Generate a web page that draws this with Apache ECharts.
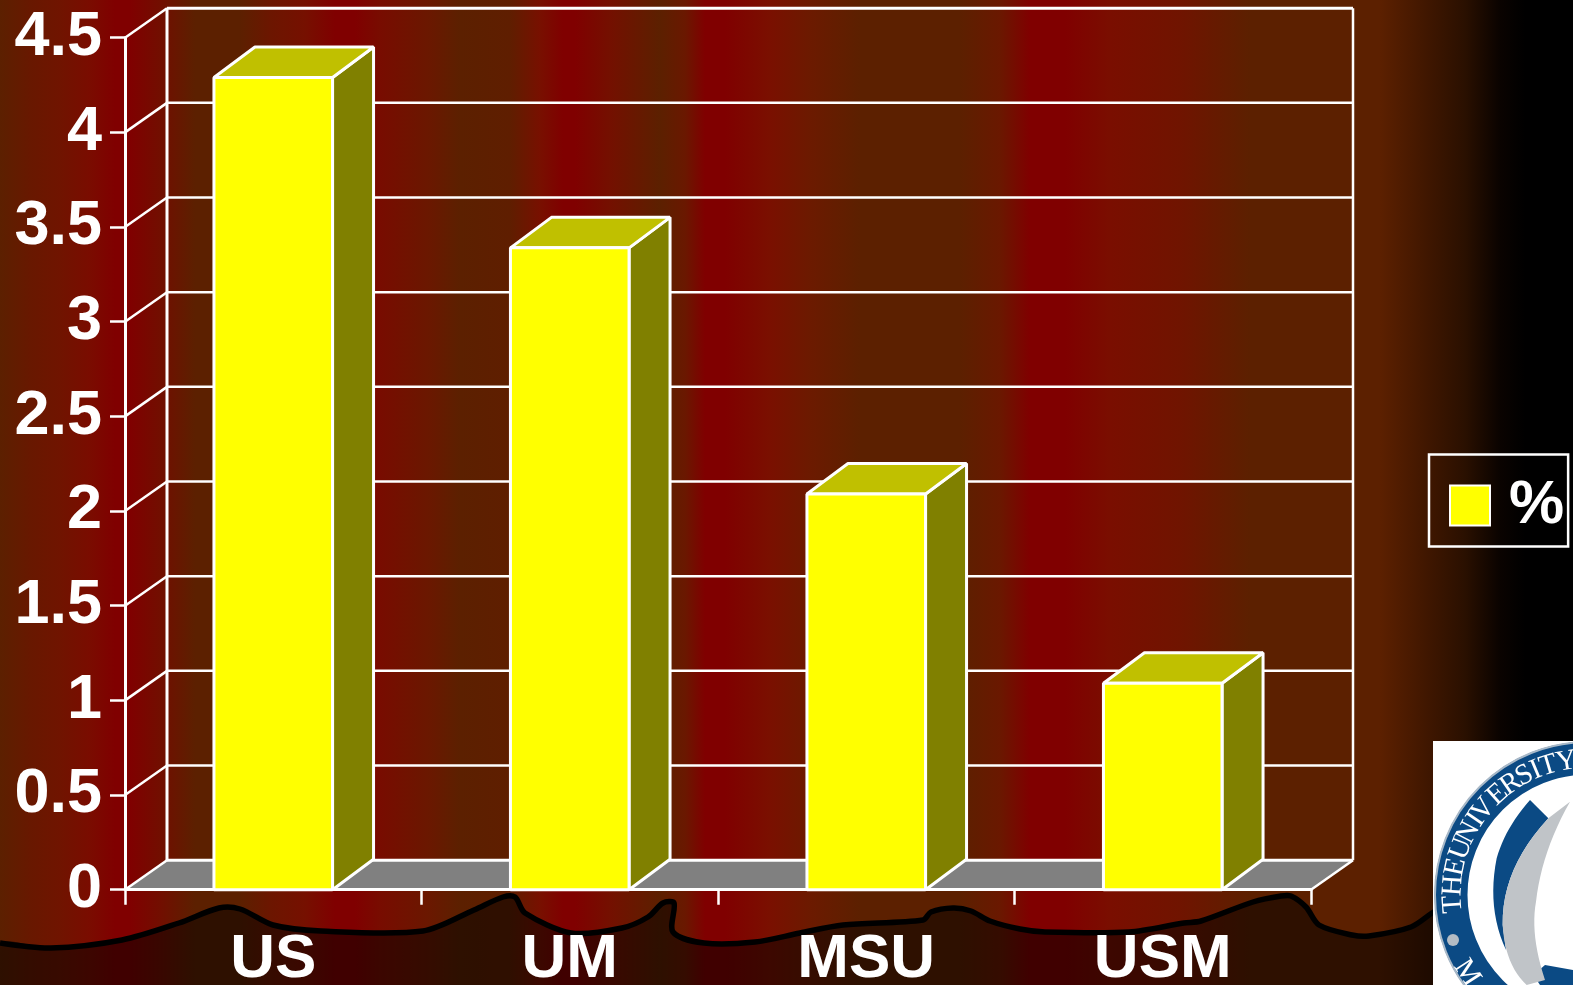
<!DOCTYPE html>
<html>
<head>
<meta charset="utf-8">
<title>Chart</title>
<style>
  html, body { margin: 0; padding: 0; background: #000; }
  #main { width: 1573px; height: 985px; }
</style>
<script src="https://cdn.jsdelivr.net/npm/echarts@6/dist/echarts.min.js"></script>
</head>
<body>
<div id="main"></div>
<script>
// chart data
const categories = ['US', 'UM', 'MSU', 'USM'];
const percentValues = [4.29, 3.39, 2.09, 1.09];
const yTicks = [0, 0.5, 1, 1.5, 2, 2.5, 3, 3.5, 4, 4.5];
const seriesName = '%';

// pseudo 3d depth of the wall and the bars, in pixels
const wallDx = 42, wallDy = 29.5;
const barDx = 41, barDy = 30.5;
const barFraction = 0.4;

// vertical stripes of the slide background
const stripeX = [0, 30, 60, 90, 115, 130, 160, 195, 240, 270, 305, 335, 355, 380, 430, 460, 510, 540, 563, 575, 610, 660, 685, 705, 725, 770, 810, 860, 960, 1000, 1030, 1065, 1110, 1180, 1250, 1380, 1430, 1465, 1500, 1525, 1573];
const stripeColors = ['#5c2000', '#681800', '#701400', '#7a0c00', '#800000', '#800000', '#720e00', '#5c2000', '#5c2000', '#6c1600', '#761000', '#800000', '#800000', '#780c00', '#6a1800', '#5c2000', '#5f1e00', '#781000', '#800000', '#800000', '#741000', '#5c2000', '#6a1800', '#800000', '#800000', '#7a1000', '#6c1a00', '#5c2000', '#5c2000', '#6a1800', '#800000', '#800000', '#7a0e00', '#701400', '#5c2000', '#5c2000', '#3e1600', '#2a1000', '#0a0300', '#000000', '#000000'];

// hills line at the bottom of the slide
const hillLine = [[0, 943], [51, 948], [122, 940], [179, 923], [219, 908], [240, 909], [273, 925], [321, 931], [423, 931], [474, 910], [503, 897], [515, 897], [525, 913], [571, 933], [622, 928], [648, 917], [663, 903], [674, 903], [673, 932], [704, 943], [755, 942], [800, 933], [843, 925], [923, 920], [931, 912], [953, 908], [971, 911], [990, 921], [1020, 929], [1045, 932], [1129, 932], [1184, 923], [1201, 921], [1253, 902], [1281, 896], [1291, 896], [1306, 907], [1319, 925], [1352, 935], [1369, 936], [1411, 927], [1432, 913], [1440, 908]];

// seal in the corner
const sealCx = 1588, sealCy = 895;
const sealLetters = ['T', 'H', 'E', 'U', 'N', 'I', 'V', 'E', 'R', 'S', 'I', 'T', 'Y'];
const sealAngles = [-94, -86, -78, -70, -62.5, -56, -50.7, -42, -34.7, -28, -22.7, -17, -9.2];

const sealPt = (p) => [1430 + p[0] / 3, 735 + p[1] / 3];

// quadratic curve as a run of points, for the crescents of the seal
const curve = (p0, c, p1) => {
  const pts = [];
  for (let i = 0; i <= 12; i++) {
    const t = i / 12, u = 1 - t;
    pts.push([u * u * p0[0] + 2 * u * t * c[0] + t * t * p1[0], u * u * p0[1] + 2 * u * t * c[1] + t * t * p1[1]]);
  }
  return pts;
};

const sealGraphics = () => {
  const bluePts = [[300, 195]].concat(
    curve([355, 250], [215, 400], [218, 570]),
    [[228, 645]],
    curve([228, 645], [170, 520], [200, 370]),
    curve([200, 370], [225, 280], [300, 195])
  );
  const grayPts = [[420, 200]].concat(
    curve([355, 250], [215, 400], [218, 570]),
    curve([218, 570], [225, 690], [290, 750]),
    [[345, 735]],
    curve([345, 735], [300, 600], [318, 500]),
    curve([318, 500], [335, 350], [420, 200])
  );
  const els = [
    { type: 'rect', shape: { x: 1433, y: 741, width: 140, height: 244 }, style: { fill: '#fff' } },
    { type: 'circle', shape: { cx: sealCx, cy: sealCy, r: 137 }, style: { fill: 'none', stroke: '#0b4a84', lineWidth: 33 } },
    { type: 'circle', shape: { cx: sealCx, cy: sealCy, r: 153 }, style: { fill: 'none', stroke: '#a9b9c8', lineWidth: 2 } },
    { type: 'polygon', shape: { points: bluePts.map(sealPt) }, style: { fill: '#0b4a84' } },
    { type: 'polygon', shape: { points: [[345, 690], [429, 705], [429, 750], [330, 750], [310, 720]].map(sealPt) }, style: { fill: '#0b4a84' } },
    { type: 'polygon', shape: { points: grayPts.map(sealPt) }, style: { fill: '#c0c4c8' } },
    { type: 'circle', shape: { cx: 1453, cy: 940, r: 6 }, style: { fill: '#b4bcc4' } }
  ];
  sealLetters.forEach((ch, i) => {
    const rad = sealAngles[i] * Math.PI / 180;
    els.push({
      type: 'text',
      x: sealCx + 135 * Math.sin(rad),
      y: sealCy - 135 * Math.cos(rad),
      rotation: -rad,
      style: { text: ch, fill: '#fff', font: '29px "Liberation Serif"', align: 'center', verticalAlign: 'middle' }
    });
  });
  const mAngle = 57 * Math.PI / 180;
  els.push({
    type: 'text', x: 1467, y: 973, rotation: mAngle * -1,
    style: { text: 'M', fill: '#fff', font: '29px "Liberation Serif"', align: 'center', verticalAlign: 'middle' }
  });
  return els;
};

const chart = echarts.init(document.getElementById('main'));

const line = (x1, y1, x2, y2, width) => ({
  type: 'line',
  shape: { x1, y1, x2, y2 },
  style: { stroke: '#fff', lineWidth: width || 2.5 }
});

// back wall, left wall and floor, one group per tick
const renderWall = (params, api) => {
  const rect = params.coordSys;
  const y = api.coord([0, api.value(0)])[1];
  const left = rect.x, right = rect.x + rect.width;
  const children = [];
  if (api.value(0) === 0) {
    children.push({
      type: 'polygon',
      shape: { points: [[left, y], [right, y], [right + wallDx, y - wallDy], [left + wallDx, y - wallDy]] },
      style: { fill: '#808080' }
    });
    children.push(line(right, y, right + wallDx, y - wallDy));
    children.push(line(left + wallDx, rect.y - wallDy, left + wallDx, y - wallDy, 3));
    children.push(line(right + wallDx, rect.y - wallDy, right + wallDx, y - wallDy));
  }
  children.push(line(left, y, left + wallDx, y - wallDy));
  children.push(line(left + wallDx, y - wallDy, right + wallDx, y - wallDy, api.value(0) === 4.5 || api.value(0) === 0 ? 3 : 2.5));
  return { type: 'group', children };
};

// box: front, top and right side
const renderBar = (params, api) => {
  const top = api.coord([api.value(0), api.value(1)]);
  const base = api.coord([api.value(0), 0]);
  const w = api.size([1, 0])[0] * barFraction;
  const x0 = top[0] - w / 2, x1 = top[0] + w / 2;
  const border = { stroke: '#fff', lineWidth: 3, lineJoin: 'bevel' };
  return {
    type: 'group',
    children: [
      { type: 'polygon', shape: { points: [[x1, top[1]], [x1 + barDx, top[1] - barDy], [x1 + barDx, base[1] - barDy], [x1, base[1]]] }, style: { fill: '#808000', ...border } },
      { type: 'polygon', shape: { points: [[x0, top[1]], [x0 + barDx, top[1] - barDy], [x1 + barDx, top[1] - barDy], [x1, top[1]]] }, style: { fill: '#c0c000', ...border } },
      { type: 'rect', shape: { x: x0, y: top[1], width: w, height: base[1] - top[1] }, style: { fill: '#ffff00', ...border } }
    ]
  };
};

const option = {
  animation: false,
  backgroundColor: new echarts.graphic.LinearGradient(0, 0, 1, 0,
    stripeX.map((x, i) => ({ offset: x / 1573, color: stripeColors[i] }))),
  textStyle: { fontFamily: '"Liberation Sans", Arial, sans-serif' },
  grid: { left: 125, top: 37.7, width: 1186, height: 852, containLabel: false, outerBoundsMode: 'none' },
  legend: {
    data: [{ name: seriesName, icon: 'rect', itemStyle: { color: '#ffff00', borderColor: '#fff', borderWidth: 2 } }],
    left: 1429,
    top: 454.5,
    padding: [20, 4, 10, 20],
    itemWidth: 40,
    itemHeight: 40,
    itemGap: 0,
    borderColor: '#fff',
    borderWidth: 2.5,
    textStyle: { color: '#fff', fontSize: 62, fontWeight: 'bold', padding: [0, 0, 0, 14] }
  },
  xAxis: {
    type: 'category',
    data: categories,
    z: 1.5,
    axisLine: { lineStyle: { color: '#fff', width: 3 } },
    axisTick: { show: true, length: 15, alignWithLabel: false, lineStyle: { color: '#fff', width: 2.5 } },
    axisLabel: { color: '#fff', fontSize: 62, fontWeight: 'bold', margin: 39, interval: 0 }
  },
  yAxis: {
    type: 'value',
    min: 0,
    max: 4.5,
    interval: 0.5,
    z: 1.5,
    axisLine: { show: true, lineStyle: { color: '#fff', width: 3 } },
    axisTick: { show: true, length: 15, lineStyle: { color: '#fff', width: 2.5 } },
    axisLabel: { color: '#fff', fontSize: 63, fontWeight: 'bold', margin: 23, padding: [6, 0, 0, 0] },
    splitLine: { show: false }
  },
  graphic: {
    elements: [
      {
        type: 'polygon',
        silent: true,
        z: 0,
        shape: { smooth: 0.3, points: hillLine.concat([[1573, 908], [1573, 985], [0, 985]]) },
        style: { fill: 'rgba(0,0,0,0.5)' }
      },
      {
        type: 'polyline',
        silent: true,
        z: 0,
        shape: { smooth: 0.3, points: hillLine },
        style: { fill: 'none', stroke: '#000', lineWidth: 5.5, lineJoin: 'round' }
      },
      { type: 'group', silent: true, z: 10, children: sealGraphics() }
    ]
  },
  series: [
    {
      name: 'wall',
      type: 'custom',
      z: 1,
      silent: true,
      clip: false,
      renderItem: renderWall,
      encode: { y: 0 },
      data: yTicks.map((t) => [t])
    },
    {
      name: seriesName,
      type: 'custom',
      z: 2,
      clip: false,
      renderItem: renderBar,
      encode: { x: 0, y: 1 },
      data: percentValues.map((v, i) => [i, v])
    }
  ]
};

chart.setOption(option);
window.addEventListener('resize', () => chart.resize());
</script>
</body>
</html>
